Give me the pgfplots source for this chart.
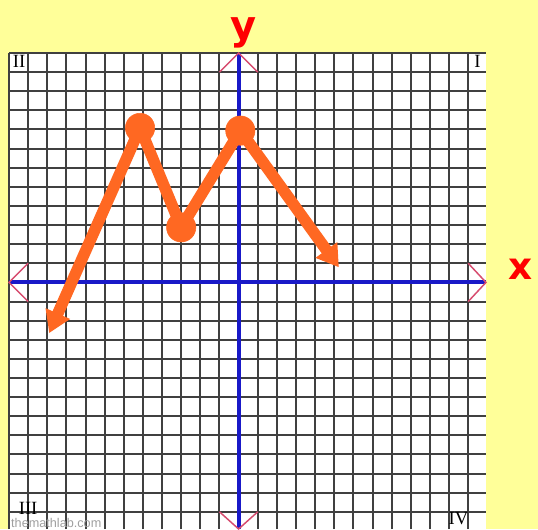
\documentclass[border=0pt]{standalone}
\usepackage{pgfplots}
\pgfplotsset{compat=1.18}
\usetikzlibrary{arrows.meta}
\usepackage{fontspec}
\setmainfont{Liberation Serif}
\newfontfamily\sansf{Liberation Sans}
\newfontfamily\labf{DejaVu Sans}
\definecolor{bgyellow}{RGB}{255,255,153}
\definecolor{orangeM}{RGB}{255,104,34}
\definecolor{axblue}{RGB}{25,25,200}
\definecolor{arrpink}{RGB}{215,75,110}
\definecolor{wmgray}{RGB}{160,160,160}
\begin{document}
\begin{tikzpicture}
\fill[bgyellow] (-6.75pt,0) rectangle (396.75pt,396.75pt);
\begin{axis}[
  at={(0,0)}, anchor=south west,
  scale only axis, width=357.75pt, height=357pt,
  xmin=-12, xmax=12.93, ymin=-12.9, ymax=12,
  xtick={-12,...,12}, ytick={-12,...,12},
  xticklabels={}, yticklabels={},
  major tick length=0pt,
  grid=major,
  major grid style={draw=black!75, line width=1.5pt},
  axis line style={draw=none},
  axis background/.style={fill=white},
  clip=false,
]
% coordinate axes
\addplot[axblue, line width=3pt, no markers] coordinates {(-12,0) (12.93,0)};
\addplot[axblue, line width=3pt, no markers] coordinates {(0,-12.9) (0,12)};
% axis arrowheads
\addplot[arrpink, line width=1.1pt, no markers] coordinates {(-11,1) (-12,0) (-11,-1)};
\addplot[arrpink, line width=1.1pt, no markers] coordinates {(12,1) (12.93,0) (12,-1)};
\addplot[arrpink, line width=1.1pt, no markers] coordinates {(-1,11) (0,12) (1,11)};
\addplot[arrpink, line width=1.1pt, no markers] coordinates {(-1,-12) (0,-12.9) (1,-12)};
% orange polyline
\addplot[orangeM, line width=8.6pt, no markers, line join=round,
  arrows={Triangle[length=16pt,width=19pt]-Triangle[length=16pt,width=19pt]}]
  coordinates {(-9.9,-2.65) (-5.15,8.08) (-3.0,2.88) (0.09,7.94) (5.24,0.79)};
\addplot[only marks, mark=*, mark size=11pt, mark options={fill=orangeM, draw=orangeM}]
  coordinates {(-5.15,8.08) (-3.0,2.88) (0.09,7.94)};
% quadrant labels
\node[font=\fontsize{14}{14}\selectfont] at (axis cs:-11.47,11.54) {II};
\node[font=\fontsize{14}{14}\selectfont] at (axis cs:12.48,11.54) {I};
\node[font=\fontsize{14}{14}\selectfont] at (axis cs:-11.0,-11.8) {III};
\node[font=\fontsize{14}{14}\selectfont] at (axis cs:11.49,-12.37) {IV};
\node[font=\sansf\fontsize{9.5}{10}\selectfont, text=wmgray, inner sep=0pt] at (axis cs:-9.53,-12.6) {themathlab.com};
% axis letters
\node[font=\labf\bfseries\fontsize{30}{30}\selectfont, text=red] at (axis cs:0.27,13.05) {y};
\node[font=\labf\bfseries\fontsize{28}{28}\selectfont, text=red] at (axis cs:14.73,0.66) {x};
\end{axis}
\pgfresetboundingbox
\useasboundingbox (-6.75pt,0) rectangle (396.75pt,396.75pt);
\end{tikzpicture}
\end{document}
